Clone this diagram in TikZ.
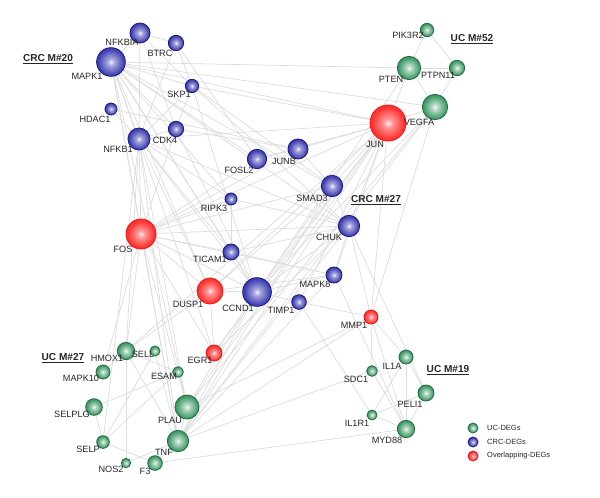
\documentclass[tikz,border=0pt]{standalone}
\usepackage{fontspec}
\setmainfont{Liberation Sans}
\usetikzlibrary{backgrounds}

\definecolor{ucGreen}{HTML}{2E9158}
\definecolor{crcBlue}{HTML}{2222A8}
\definecolor{ovlRed}{HTML}{FF1C1C}
\definecolor{edgeGray}{HTML}{DCDCDC}

\pgfdeclareradialshading{ucball}{\pgfpoint{0bp}{0bp}}{color(0bp)=(white!95!ucGreen); color(6bp)=(white!65!ucGreen); color(22bp)=(ucGreen!90!white); color(40bp)=(ucGreen!80!black); color(50bp)=(ucGreen!60!black)}
\pgfdeclareradialshading{crcball}{\pgfpoint{0bp}{0bp}}{color(0bp)=(white!95!crcBlue); color(6bp)=(white!60!crcBlue); color(22bp)=(crcBlue!85!white); color(40bp)=(crcBlue!85!black); color(50bp)=(crcBlue!60!black)}
\pgfdeclareradialshading{ovlball}{\pgfpoint{0bp}{0bp}}{color(0bp)=(white!92!ovlRed); color(6bp)=(white!55!ovlRed); color(22bp)=(ovlRed!90!white); color(40bp)=(ovlRed); color(50bp)=(ovlRed!85!black)}

\begin{document}
\begin{tikzpicture}[x=0.03cm, y=-0.03cm,
    gene/.style={circle, inner sep=0pt, line width=0.7pt, shade, minimum size=#1},
    uc/.style={gene=#1, shading=ucball, draw=ucGreen!75!black},
    crc/.style={gene=#1, shading=crcball, draw=crcBlue!75!black},
    ovl/.style={gene=#1, shading=ovlball, draw=ovlRed!90!black},
    lbl/.style={font=\fontsize{7.8}{9}\selectfont, inner sep=0pt, text=black!85},
    module/.style={font=\fontsize{8.6}{10}\selectfont\bfseries, inner sep=0pt, text=black!85},
    legtext/.style={font=\fontsize{6.4}{8}\selectfont, inner sep=0pt, anchor=west, text=black!85},
    edge/.style={draw=edgeGray, line width=0.6pt}]
  \useasboundingbox (0,0) rectangle (600,497);

  % CRC-DEGs
  \foreach \n/\x/\y/\d in {NFKBIA/140/33/0.60, BTRC/176/43/0.46, MAPK1/111/62/0.86, SKP1/192/86/0.40,
      HDAC1/111/109/0.36, CDK4/176/129/0.46, NFKB1/139/139/0.66, FOSL2/257/159/0.58,
      JUNB/298/149/0.60, SMAD3/332/186/0.64, RIPK3/231/199/0.36, TICAM1/231/252/0.48,
      CHUK/349/226/0.64, MAPK8/334/275/0.48, CCND1/257/292/0.86, TIMP1/299/302/0.44}
    \node[crc=\d cm] (\n) at (\x,\y) {};
  % overlapping DEGs
  \foreach \n/\x/\y/\d in {JUN/388/123/1.08, FOS/141/234/0.90, DUSP1/210/291/0.78,
      EGR1/214/353/0.48, MMP1/371/317/0.42}
    \node[ovl=\d cm] (\n) at (\x,\y) {};
  % UC-DEGs
  \foreach \n/\x/\y/\d in {VEGFA/435/107/0.76, PTEN/409/68/0.70, PTPN11/457/68/0.46, PIK3R2/427/30/0.40,
      HMOX1/126/351/0.52, SELL/155/351/0.30, MAPK10/103/372/0.42, ESAM/178/372/0.32,
      SELPLG/94/407/0.50, PLAU/187/407/0.72, SELP/103/442/0.38, TNF/178/441/0.64,
      NOS2/126/463/0.28, F3/155/463/0.44, IL1A/406/357/0.42, SDC1/372/371/0.32,
      PELI1/426/393/0.48, IL1R1/372/415/0.30, MYD88/406/429/0.52}
    \node[uc=\d cm] (\n) at (\x,\y) {};

  % gene names
  \foreach \n/\x/\y in {NFKBIA/122/42, BTRC/160/53, MAPK1/87/76, SKP1/179/94, HDAC1/95/119,
      NFKB1/118/149, CDK4/165/140, FOSL2/239/170, JUNB/284/161, SMAD3/312/198,
      JUN/375/144, VEGFA/419/122, PTEN/391/79, PTPN11/438/75, PIK3R2/408/35,
      RIPK3/214/208, FOS/123/249, TICAM1/210/259, DUSP1/188/304, CCND1/238/308,
      TIMP1/281/310, MAPK8/315/284, CHUK/329/237, MMP1/354/325, EGR1/200/360,
      HMOX1/107/358, SELL/143/354, MAPK10/81/378, ESAM/164/376, SELPLG/72/414,
      PLAU/170/420, SELP/88/449, TNF/164/452, NOS2/111/469, F3/145/471,
      IL1A/392/366, SDC1/356/379, PELI1/410/404, IL1R1/357/423, MYD88/387/440}
    \node[lbl] (\n-txt) at (\x,\y) {\n};

  % module names
  \node[module] (m20) at (48,59) {\underline{CRC M\#20}};
  \node[module] (m52) at (472,39) {\underline{UC M\#52}};
  \node[module] (m27c) at (376,200) {\underline{CRC M\#27}};
  \node[module] (m27u) at (63,358) {\underline{UC M\#27}};
  \node[module] (m19) at (448,370) {\underline{UC M\#19}};

  % legend
  \node[uc=0.30cm] (leg-uc) at (473,428) {};
  \node[crc=0.30cm] (leg-crc) at (473,442) {};
  \node[ovl=0.30cm] (leg-ovl) at (473,456) {};
  \node[legtext] (leg-uc-txt) at (487,428) {UC-DEGs};
  \node[legtext] (leg-crc-txt) at (487,442) {CRC-DEGs};
  \node[legtext] (leg-ovl-txt) at (487,456) {Overlapping-DEGs};

  \begin{pgfonlayer}{background}
    \foreach \a/\b in {NFKBIA/MAPK1, NFKBIA/BTRC, NFKBIA/NFKB1, NFKBIA/CDK4, NFKBIA/SKP1,
        BTRC/SKP1, BTRC/NFKB1, BTRC/FOSL2, MAPK1/NFKB1, MAPK1/CDK4, MAPK1/SKP1,
        HDAC1/NFKB1, HDAC1/JUNB, SKP1/CDK4, SKP1/NFKB1, NFKB1/CDK4,
        MAPK1/PTEN, MAPK1/JUN, MAPK1/VEGFA, MAPK1/FOS, MAPK1/CCND1, MAPK1/DUSP1,
        MAPK1/TICAM1, MAPK1/FOSL2, MAPK1/RIPK3, MAPK1/SMAD3, MAPK1/CHUK, MAPK1/TNF,
        MAPK1/PLAU, MAPK1/EGR1,
        SKP1/JUN, SKP1/CCND1, SKP1/CHUK, SKP1/SMAD3,
        CDK4/CCND1, CDK4/FOS, CDK4/JUNB,
        NFKB1/FOS, NFKB1/TICAM1, NFKB1/CCND1, NFKB1/DUSP1, NFKB1/RIPK3, NFKB1/CHUK,
        NFKB1/JUN, NFKB1/PLAU, NFKB1/TNF, NFKB1/HMOX1, NFKB1/SELP,
        FOSL2/JUNB, FOSL2/JUN, FOSL2/FOS, JUNB/JUN, JUNB/SMAD3, JUNB/FOS,
        SMAD3/JUN, SMAD3/CHUK, SMAD3/CCND1, SMAD3/FOS, SMAD3/TNF, SMAD3/DUSP1,
        JUN/CHUK, JUN/CCND1, JUN/FOS, JUN/DUSP1, JUN/MAPK8, JUN/TIMP1, JUN/EGR1,
        JUN/PLAU, JUN/TNF, JUN/MMP1, JUN/VEGFA, JUN/PTEN, JUN/HMOX1,
        VEGFA/TNF, VEGFA/PLAU, VEGFA/MMP1, VEGFA/PTEN, VEGFA/PTPN11, VEGFA/CCND1,
        PTEN/PIK3R2, PTEN/PTPN11, PIK3R2/PTPN11, PTEN/CCND1,
        FOS/TICAM1, FOS/DUSP1, FOS/CCND1, FOS/EGR1, FOS/HMOX1, FOS/MAPK10, FOS/PLAU,
        FOS/TNF, FOS/MAPK8, FOS/CHUK, FOS/RIPK3,
        RIPK3/TICAM1, RIPK3/CHUK, TICAM1/CHUK, TICAM1/CCND1, TICAM1/MAPK8,
        CCND1/DUSP1, CCND1/TIMP1, CCND1/CHUK, CCND1/MAPK8, CCND1/PLAU, CCND1/TNF, CCND1/EGR1,
        DUSP1/EGR1, DUSP1/MAPK8, DUSP1/HMOX1,
        TIMP1/MMP1, TIMP1/IL1R1,
        MMP1/SDC1, MMP1/IL1A, MMP1/MYD88, MMP1/CHUK, MMP1/TNF, MMP1/PLAU,
        CHUK/MAPK8, CHUK/PELI1, CHUK/TNF, CHUK/EGR1, MAPK8/MYD88, MAPK8/TNF,
        HMOX1/MAPK10, HMOX1/NOS2, HMOX1/TNF, HMOX1/ESAM, SELL/SELP, SELL/TNF,
        ESAM/SELPLG, ESAM/SELP, ESAM/PLAU, SELPLG/SELP, SELP/F3, NOS2/TNF, F3/TNF,
        PLAU/TNF, TNF/SDC1, F3/MYD88,
        IL1A/PELI1, IL1A/MYD88, IL1A/IL1R1, SDC1/MYD88, IL1R1/MYD88, IL1R1/PELI1, PELI1/MYD88}
      \draw[edge] (\a) -- (\b);
  \end{pgfonlayer}
\end{tikzpicture}
\end{document}
